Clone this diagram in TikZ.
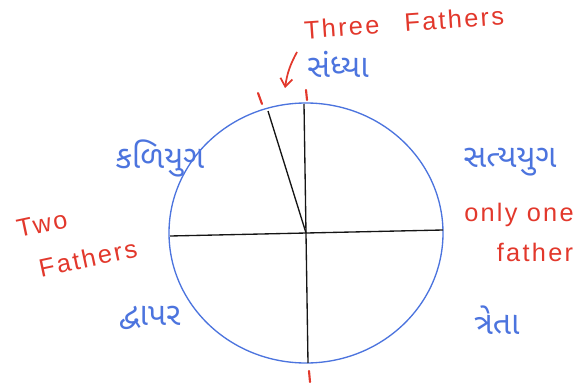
\documentclass[tikz,border=0pt]{standalone}
\usepackage{fontspec}
\setmainfont{Liberation Sans}
\newfontfamily\handfont[LetterSpace=9]{Liberation Sans}
\newfontfamily\gujfont[Script=Gujarati]{Noto Sans Gujarati UI}
\usetikzlibrary{arrows.meta,calc,positioning}
\definecolor{penblue}{HTML}{4C74DE}
\definecolor{penred}{HTML}{E2382C}
\definecolor{ink}{HTML}{151515}
\tikzset{>=Latex,
  rim/.style={draw=penblue,line width=1pt},
  spoke/.style={draw=ink,line width=1pt},
  tickmark/.style={draw=penred,line width=1.6pt,line cap=round},
  yuga/.style={text=penblue,inner sep=1pt,font=\gujfont\fontsize{24}{26}\selectfont},
  note/.style={text=penred,inner sep=1pt,font=\handfont\fontsize{19}{21}\selectfont}}

\begin{document}
\begin{tikzpicture}[x=0.75pt,y=-0.75pt]
\useasboundingbox (0,0) rectangle (581,392);
% wheel of the yugas
\coordinate (o) at (306,233);
\coordinate (top) at (304,104);
\coordinate (bot) at (308,363);
\coordinate (lft) at (170,236);
\coordinate (rgt) at (443,230);
\coordinate (kal) at (268,111);
\draw[rim] (o) ellipse [x radius=137, y radius=130];
\draw[spoke] (top) -- (bot);
\draw[spoke] (lft) -- (rgt);
\draw[spoke] (kal) -- (o);
% red marks on the rim
\coordinate (t1a) at (258,93);  \coordinate (t1b) at (262,104);
\coordinate (t2a) at (306,90);  \coordinate (t2b) at (307,100);
\coordinate (t3a) at (309,371); \coordinate (t3b) at (310,382);
\draw[tickmark] (t1a) -- (t1b);
\draw[tickmark] (t2a) -- (t2b);
\draw[tickmark] (t3a) -- (t3b);
% labels
\node[note,rotate=4] (three) at (404,23) {Three\quad Fathers};
\coordinate (arra) at (297,52);
\coordinate (arrb) at (285,88);
\draw[penred,line width=1.3pt,-{Straight Barb[length=6pt,width=9pt]}] (arra) to[bend right=10] (arrb);
\node[yuga] (sandhya) at (338,64) {સંધ્યા};
\node[yuga] (kali) at (160,158) {કળિયુગ};
\node[yuga] (satya) at (510,162) {સત્યયુગ};
\node[note] (onlyone) at (519,215) {only one};
\node[note] (father) at (535,252) {father};
\node[note,rotate=12] (two) at (42,224) {Two};
\node[note,rotate=12] (fathers) at (88,258) {Fathers};
\node[yuga] (dvapar) at (150,318) {દ્વાપર};
\node[yuga] (treta) at (497,320) {ત્રેતા};
\end{tikzpicture}
\end{document}
